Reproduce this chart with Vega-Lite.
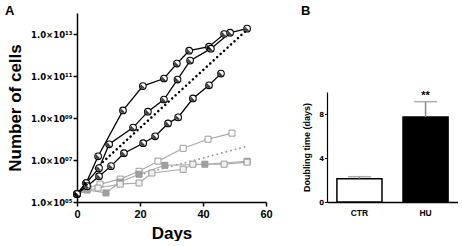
{
  "$schema": "https://vega.github.io/schema/vega-lite/v6.json",
  "background": "white",
  "padding": {"left": 5, "top": 5, "right": 0, "bottom": 0},
  "bounds": "flush",
  "spacing": 61,
  "resolve": {"scale": {"x": "independent", "y": "independent", "fill": "independent"}},
  "config": {
    "view": {"stroke": null},
    "font": "Liberation Sans",
    "axis": {"domainColor": "black", "domainWidth": 1.5, "tickColor": "black", "tickWidth": 1.5, "labelColor": "black", "titleColor": "black", "grid": false, "labelFont": "Liberation Sans", "titleFont": "Liberation Sans", "labelFontWeight": "bold", "titleFontWeight": "bold", "labelOverlap": false},
    "title": {"font": "Liberation Sans", "fontWeight": "bold", "color": "black"}
  },
  "datasets": {
    "growth": [
      {"series": "S1", "day": 0, "cells": 2.4e5},
      {"series": "S1", "day": 2.9, "cells": 8.0e5},
      {"series": "S1", "day": 6.7, "cells": 1.5e7},
      {"series": "S1", "day": 14.6, "cells": 2.3e9},
      {"series": "S1", "day": 20.9, "cells": 3.3e10},
      {"series": "S1", "day": 27.6, "cells": 7.6e10},
      {"series": "S1", "day": 31.7, "cells": 3.9e11},
      {"series": "S1", "day": 35.6, "cells": 1.6e12},
      {"series": "S1", "day": 41.9, "cells": 2.5e12},
      {"series": "S1", "day": 46.7, "cells": 1.0e13},
      {"series": "S1", "day": 54, "cells": 1.8e13},
      {"series": "S2", "day": 0, "cells": 2.4e5},
      {"series": "S2", "day": 2.9, "cells": 8.0e5},
      {"series": "S2", "day": 7.0, "cells": 4.1e6},
      {"series": "S2", "day": 10.2, "cells": 5.6e7},
      {"series": "S2", "day": 17.8, "cells": 3.5e8},
      {"series": "S2", "day": 22.5, "cells": 2.0e9},
      {"series": "S2", "day": 27.6, "cells": 7.6e9},
      {"series": "S2", "day": 31.9, "cells": 6.8e10},
      {"series": "S2", "day": 35.9, "cells": 5.4e11},
      {"series": "S2", "day": 42.5, "cells": 2.0e12},
      {"series": "S2", "day": 48.6, "cells": 1.15e13},
      {"series": "S3", "day": 0, "cells": 2.4e5},
      {"series": "S3", "day": 3.2, "cells": 5.7e5},
      {"series": "S3", "day": 7.0, "cells": 1.7e6},
      {"series": "S3", "day": 10.8, "cells": 5.1e6},
      {"series": "S3", "day": 14.9, "cells": 2.1e7},
      {"series": "S3", "day": 21.0, "cells": 6.3e7},
      {"series": "S3", "day": 24.8, "cells": 1.35e8},
      {"series": "S3", "day": 28.9, "cells": 5.5e8},
      {"series": "S3", "day": 32.1, "cells": 1.07e9},
      {"series": "S3", "day": 36.8, "cells": 8.5e9},
      {"series": "S3", "day": 41.9, "cells": 3.6e10},
      {"series": "S3", "day": 45.7, "cells": 1.3e11},
      {"series": "G1", "day": 0, "cells": 2.4e5},
      {"series": "G1", "day": 3.5, "cells": 4.6e5},
      {"series": "G1", "day": 7.3, "cells": 7.1e5},
      {"series": "G1", "day": 13.7, "cells": 1.23e6},
      {"series": "G1", "day": 19.7, "cells": 2.9e6},
      {"series": "G1", "day": 25.7, "cells": 8.8e6},
      {"series": "G1", "day": 33.7, "cells": 3.6e7},
      {"series": "G1", "day": 41.6, "cells": 9.8e7},
      {"series": "G1", "day": 49.2, "cells": 1.9e8},
      {"series": "G2", "day": 0, "cells": 2.4e5},
      {"series": "G2", "day": 3.2, "cells": 3.7e5},
      {"series": "G2", "day": 9.2, "cells": 2.7e5},
      {"series": "G2", "day": 13.7, "cells": 8.9e5},
      {"series": "G2", "day": 19.7, "cells": 2.1e6},
      {"series": "G2", "day": 27.9, "cells": 5.6e6},
      {"series": "G2", "day": 40.6, "cells": 6.3e6},
      {"series": "G2", "day": 54, "cells": 8.7e6},
      {"series": "G3", "day": 0, "cells": 2.4e5},
      {"series": "G3", "day": 6.7, "cells": 4.6e5},
      {"series": "G3", "day": 13.7, "cells": 7.1e5},
      {"series": "G3", "day": 19.7, "cells": 8.0e5},
      {"series": "G3", "day": 23.8, "cells": 2.4e6},
      {"series": "G3", "day": 33.7, "cells": 3.6e6},
      {"series": "G3", "day": 36.8, "cells": 6.3e6},
      {"series": "G3", "day": 46.7, "cells": 6.3e6},
      {"series": "G3", "day": 54, "cells": 7.9e6},
      {"series": "fitB", "day": 6, "cells": 4.0e6},
      {"series": "fitB", "day": 54, "cells": 1.6e13},
      {"series": "fitG", "day": 20, "cells": 2.0e6},
      {"series": "fitG", "day": 54, "cells": 4.5e7}
    ],
    "doubling": [
      {"group": "CTR", "mean": 2.12, "upper": 2.3, "sig": ""},
      {"group": "HU", "mean": 7.73, "upper": 9.12, "sig": "**"}
    ],
    "blank": [{"t": ""}]
  },
  "hconcat": [
    {
      "width": 189,
      "height": 189,
      "title": {"text": "A", "anchor": "start", "frame": "group", "fontSize": 13, "dx": -72, "dy": 12, "offset": -3, "baseline": "alphabetic"},
      "data": {"name": "growth"},
      "encoding": {
        "x": {"field": "day", "type": "quantitative", "scale": {"domain": [0, 60], "nice": false},
          "axis": {"values": [0, 20, 40, 60], "title": "Days", "titleFontSize": 17, "labelFontSize": 11, "tickSize": 4, "labelPadding": 2, "titlePadding": 6, "labelFlush": false}},
        "y": {"field": "cells", "type": "quantitative", "scale": {"type": "log", "domain": [1e5, 1e14], "nice": false},
          "axis": {"values": [1e5, 1e7, 1e9, 1e11, 1e13], "title": "Number of cells", "titleFontSize": 17, "labelFont": "DejaVu Sans", "labelFontSize": 8.5, "tickSize": 4, "labelPadding": 1, "titlePadding": 6,
            "labelExpr": "'1.0×10' + (datum.value < 1e6 ? '⁰⁵' : datum.value < 1e8 ? '⁰⁷' : datum.value < 1e10 ? '⁰⁹' : datum.value < 1e12 ? '¹¹' : '¹³')"}}
      },
      "layer": [
        {"transform": [{"filter": "datum.series == 'fitG'"}], "mark": {"type": "line", "color": "#9a9a9a", "strokeWidth": 1.9, "strokeDash": [0.1, 4.6], "strokeCap": "round"}},
        {"transform": [{"filter": "indexof(['G1','G2','G3'], datum.series) >= 0"}], "mark": {"type": "line", "color": "#a8a8a8", "strokeWidth": 1.1}, "encoding": {"detail": {"field": "series"}}},
        {"transform": [{"filter": "indexof(['G1','G2','G3'], datum.series) >= 0"}], "mark": {"type": "point", "shape": "square", "filled": true, "size": 36, "stroke": "#9a9a9a", "strokeWidth": 1, "opacity": 1},
          "encoding": {"fill": {"field": "series", "type": "nominal", "scale": {"domain": ["G1", "G2", "G3"], "range": ["#ffffff", "#a0a0a0", "#f2f2f2"]}, "legend": null}}},
        {"transform": [{"filter": "datum.series == 'fitB'"}], "mark": {"type": "line", "color": "black", "strokeWidth": 2.5, "strokeDash": [0.1, 4.6], "strokeCap": "round"}},
        {"transform": [{"filter": "indexof(['S1','S2','S3'], datum.series) >= 0"}], "mark": {"type": "line", "color": "black", "strokeWidth": 1.3}, "encoding": {"detail": {"field": "series"}}},
        {"transform": [{"filter": "indexof(['S1','S2','S3'], datum.series) >= 0"}], "mark": {"type": "point", "shape": "circle", "filled": true, "fill": "white", "stroke": "black", "strokeWidth": 1.1, "size": 44, "opacity": 1}},
        {"transform": [{"filter": "indexof(['S1','S2','S3'], datum.series) >= 0"}], "mark": {"type": "point", "shape": "M-0.71,-0.71A1,1,0,0,0,0.71,0.71Z", "filled": true, "fill": "black", "size": 30, "opacity": 0.75}}
      ]
    },
    {
      "bounds": "flush",
      "spacing": 10,
      "vconcat": [
        {
          "width": 131,
          "height": 69,
          "title": {"text": "B", "anchor": "start", "frame": "group", "fontSize": 13, "dx": -26, "dy": 12, "offset": -3, "baseline": "alphabetic"},
          "data": {"name": "blank"},
          "mark": {"type": "text"},
          "encoding": {"text": {"field": "t"}}
        },
        {
          "width": 131,
          "height": 110,
          "data": {"name": "doubling"},
          "encoding": {
            "x": {"field": "group", "type": "nominal", "sort": ["CTR", "HU"], "scale": {"paddingInner": 0.318, "paddingOuter": 0.15},
              "axis": {"title": null, "labelAngle": 0, "labelFontSize": 8.5, "ticks": false, "labelPadding": 6, "domainWidth": 1.5}}
          },
          "layer": [
            {"mark": {"type": "bar", "stroke": "black", "strokeWidth": 1.5},
              "encoding": {
                "y": {"field": "mean", "type": "quantitative", "scale": {"domain": [0, 10], "nice": false},
                  "axis": {"values": [0, 2, 4, 6, 8, 10], "title": "Doubling time (days)", "titleFontSize": 9, "labelFontSize": 7, "labelFont": "DejaVu Sans", "tickSize": 2.5, "tickWidth": 1, "labelPadding": 1, "titlePadding": 7, "domainWidth": 1.2, "labelOverlap": false, "labelFlush": false}},
                "fill": {"field": "group", "type": "nominal", "scale": {"domain": ["CTR", "HU"], "range": ["white", "black"]}, "legend": null}
              }},
            {"mark": {"type": "rule", "color": "#8a8a8a", "strokeWidth": 1.5},
              "encoding": {"y": {"field": "mean", "type": "quantitative"}, "y2": {"field": "upper"}}},
            {"mark": {"type": "tick", "color": "#8a8a8a", "thickness": 1.5, "size": 23},
              "encoding": {"y": {"field": "upper", "type": "quantitative"}}},
            {"mark": {"type": "text", "fontSize": 11, "fontWeight": "bold", "baseline": "bottom", "dy": -1, "color": "black"},
              "encoding": {"y": {"field": "upper", "type": "quantitative"}, "text": {"field": "sig"}}}
          ]
        }
      ]
    }
  ]
}
